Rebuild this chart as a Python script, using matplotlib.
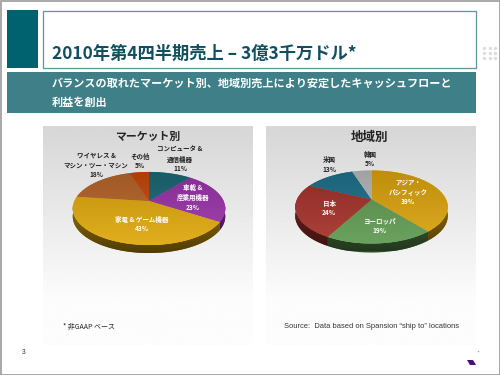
import numpy as np
import matplotlib
matplotlib.use('Agg')
import matplotlib.pyplot as plt
from matplotlib.patches import Rectangle, Polygon
from matplotlib.colors import to_rgb

plt.rcParams['font.family'] = ['Noto Sans CJK JP', 'DejaVu Sans']

title = '2010年第4四半期売上 – 3億3千万ドル*'
subtitle = ['バランスの取れたマーケット別、地域別売上により安定したキャッシュフローと', '利益を創出']

market_title = 'マーケット別'
market_labels = ['コンピュータ &\n通信機器\n11%', '車載 &\n産業用機器\n23%', '家電 & ゲーム機器\n43%',
                 'ワイヤレス &\nマシン・ツー・マシン\n18%', 'その他\n5%']
market_values = [11, 23, 43, 18, 5]
market_colors = ['#1d6a78', '#9b34ab', '#dfa80c', '#b9662b', '#c8490a']
market_label_xy = [(180, 159), (193, 197.5), (142, 224), (96, 165), (140, 161)]
market_label_col = ['#222222', 'white', 'white', '#222222', '#222222']

region_title = '地域別'
region_labels = ['アジア・\nパシフィック\n39%', 'ヨーロッパ\n19%', '日本\n24%', '米国\n13%', '韓国\n5%']
region_values = [39, 19, 24, 13, 5]
region_colors = ['#dca40e', '#5f9a52', '#a5312a', '#1e728c', '#bbbbbb']
region_label_xy = [(408, 192), (379, 225.5), (329, 208), (329, 164.5), (370, 159)]
region_label_col = ['white', 'white', 'white', '#222222', '#222222']

footnote = '* 非GAAP ベース'
source = 'Source:  Data based on Spansion “ship to” locations'
page_no = '3'

fig = plt.figure(figsize=(5, 3.75), dpi=100, facecolor='white')
ax = fig.add_axes([0, 0, 1, 1])
ax.axis('off')
hidden = fig.add_axes([0, 0, .1, .1])
hidden.set_visible(False)

# frame and header
ax.add_patch(Rectangle((0.5, 0.5), 499, 374, fc='none', ec='#9a9a9a', lw=1.2))
ax.add_patch(Rectangle((7, 10), 31, 58, fc='#00626f', ec='none'))
ax.add_patch(Rectangle((43, 10.5), 433, 57, fc='white', ec='#5f939e', lw=0.9))
ax.add_patch(Rectangle((7, 72), 469, 41, fc='#3f7f88', ec='none'))
for dx in (484, 490, 495):
    for dy in (48, 53, 58):
        ax.plot(dx, dy, 'o', ms=2.4, mfc='#dcdcdc', mec='none')
ax.text(52, 53.5, title, fontsize=12.45, fontweight='bold', color='#0f4f5f', va='center', ha='left')
ax.text(52, 83.5, subtitle[0], fontsize=8.0, fontweight='bold', color='white', va='center', ha='left')
ax.text(52, 102, subtitle[1], fontsize=8.0, fontweight='bold', color='white', va='center', ha='left')

# panels
grad = np.linspace(0, 1, 256).reshape(-1, 1)
grad = np.clip(grad / 0.8, 0, 1)
panel = 0.84 + 0.15 * grad
for x0, x1 in ((43, 253), (266, 476)):
    ax.imshow(panel, extent=(x0, x1, 345, 126), cmap='gray', vmin=0, vmax=1, aspect='auto', zorder=0)


def project(theta, cx, cy, depth=0.0):
    k, A, B = 0.205, 74.6, 35.0
    x, y = np.cos(theta), np.sin(theta)
    s = 1 / (1 + k * y)
    return np.column_stack((cx + A * x * s, cy - B * y * s + depth))


def overlay(poly, c0, c1, y0, y1, z):
    """Vertical colour gradient clipped to a polygon."""
    t = np.linspace(0, 1, 128)[:, None, None]
    img = (1 - t) * np.array(to_rgb(c0))[None, None, :] + t * np.array(to_rgb(c1))[None, None, :]
    xs = poly.get_xy()[:, 0]
    im = ax.imshow(img, extent=(xs.min() - 1, xs.max() + 1, y1, y0), aspect='auto', zorder=z)
    im.set_clip_path(poly)


def mix(c, f):
    r = np.array(to_rgb(c))
    return tuple(r * f) if f <= 1 else tuple(r + (1 - r) * (f - 1))


def draw_pie(values, colors, cx, cy, depth):
    wedges, _ = hidden.pie(values, startangle=90, counterclock=False, colors=colors)
    for w, c in zip(wedges, colors):
        t1, t2 = np.radians(w.theta1), np.radians(w.theta2)
        th = np.linspace(t1, t2, 160)
        # rim: only the part facing the viewer
        thr = th[np.sin(th) < -0.1]
        if thr.size > 1:
            top = project(thr, cx, cy)
            bot = project(thr, cx, cy, depth)
            rim = Polygon(np.vstack((top, bot[::-1])), closed=True, fc=mix(c, .5), ec='none', zorder=2)
            ax.add_patch(rim)
            overlay(rim, mix(c, .66), mix(c, .36), cy, cy + 52, 2.1)
    for w, c in zip(wedges, colors):
        t1, t2 = np.radians(w.theta1), np.radians(w.theta2)
        th = np.linspace(t1, t2, 160)
        pts = np.vstack((project(th, cx, cy), [[cx, cy]]))
        poly = Polygon(pts, closed=True, fc=c, ec='none', zorder=3)
        ax.add_patch(poly)
        overlay(poly, mix(c, .86), mix(c, 1.08), cy - 30, cy + 45, 3.1)


draw_pie(market_values, market_colors, 149, 201, 8)
draw_pie(region_values, region_colors, 371.5, 199.5, 9)

ax.text(148, 137, market_title, fontsize=7.8, fontweight='bold', color='#222222', ha='center', va='center', zorder=5)
ax.text(370, 137, region_title, fontsize=9, fontweight='bold', color='#222222', ha='center', va='center', zorder=5)
for s, (x, y), col in zip(market_labels, market_label_xy, market_label_col):
    ax.text(x, y, s, fontsize=4.7, fontweight='bold', color=col, ha='center', va='center', linespacing=1.45, zorder=5)
for s, (x, y), col in zip(region_labels, region_label_xy, region_label_col):
    ax.text(x, y, s, fontsize=4.7, fontweight='bold', color=col, ha='center', va='center', linespacing=1.45, zorder=5)

ax.text(63, 327, footnote, fontsize=5.0, color='#222222', ha='left', va='center', zorder=5)
ax.text(283.5, 326.5, source, fontsize=5.4, family='Liberation Sans', color='#333333', ha='left', va='center', zorder=5)
ax.text(24, 353, page_no, fontsize=4.8, family='Liberation Sans', color='#333333', ha='center', va='center')

# logo mark
ax.add_patch(Polygon([(467, 360), (473, 360), (476, 365), (470, 365)], closed=True, fc='#4a1070', ec='none'))
ax.plot(477.5, 351, 's', ms=1, mfc='#aaaaaa', mec='none')

ax.set_xlim(0, 500)
ax.set_ylim(375, 0)
fig.savefig('out.png', dpi=100)
